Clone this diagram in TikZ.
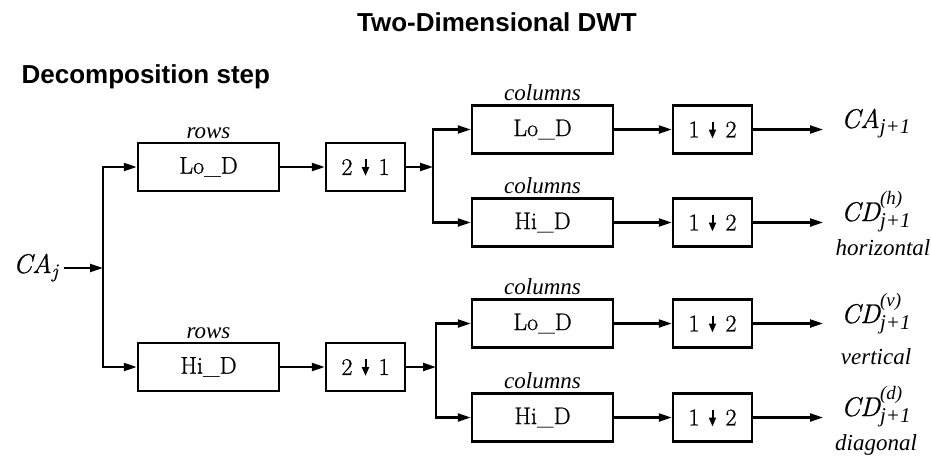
\documentclass[tikz,border=0pt]{standalone}
\usepackage{fontspec}
\usetikzlibrary{arrows.meta, positioning}
\newfontfamily\headfont{Liberation Sans}
\newfontfamily\labfont{Liberation Serif}
\newfontfamily\boxfont{Latin Modern Roman}[FakeBold=0.8]
\newcommand{\outsym}[3]{{\boxfont\itshape #1}$^{\mbox{\raisebox{7pt}{\labfont\itshape\fontsize{19}{20}\selectfont #2}}}_{\mbox{\labfont\itshape\fontsize{21}{22}\selectfont #3}}$}
\tikzset{
  every picture/.style={line width=2.5pt},
  filt/.style={draw, minimum width=141pt, minimum height=48pt, inner sep=0pt, font=\boxfont\fontsize{24}{28}\selectfont},
  down/.style={filt, minimum width=79pt},
  arrow/.style={-{Triangle[length=13pt, width=8pt]}, line width=2.2pt},
  dnarrow/.style={-{Triangle[length=9pt, width=7pt]}, line width=2pt},
  tag/.style={font=\labfont\itshape\fontsize{23}{27}\selectfont, inner sep=1pt},
  result/.style={anchor=base west, font=\fontsize{27}{31}\selectfont, inner sep=0pt},
  head/.style={font=\headfont\bfseries\fontsize{26}{30}\selectfont},
}
\begin{document}
\begin{tikzpicture}[x=1pt, y=-1pt]
  \useasboundingbox (0,0) rectangle (931,458);
  \node[head] (title) at (497,22) {Two-Dimensional DWT};
  \node[head, anchor=base west] (step) at (17,83) {Decomposition step};
  \node[result] (ca) at (12,273) {{\boxfont\itshape CA}$_{\mbox{\boxfont\itshape\fontsize{20}{22}\selectfont j}}$};
  \coordinate (split) at (103,268);
  \draw[arrow, shorten <=4pt] (ca.east |- split) -- (split);
  % rows
  \foreach \f/\y [count=\i] in {Lo/167, Hi/367} {
    \node[filt] (r\i) at (208.5,\y) {\f\_D};
    \node[tag, above=1pt of r\i] (rt\i) {rows};
    \node[down] (rd\i) at (365.5,\y) {2\hspace{26pt}1};
    \draw[dnarrow] ([yshift=8pt]rd\i.center) -- ([yshift=-9pt]rd\i.center);
    \draw[arrow] (split) |- (r\i);
    \draw[arrow] (r\i) -- (rd\i);
  }
  % columns
  \foreach \f/\y [count=\i] in {Lo/129.5, Hi/222.5, Lo/323.5, Hi/417.5} {
    \node[filt] (c\i) at (542.5,\y) {\f\_D};
    \node[tag, above=1pt of c\i] (ct\i) {columns};
    \node[down] (cd\i) at (712.5,\y) {1\hspace{26pt}2};
    \draw[dnarrow] ([yshift=8pt]cd\i.center) -- ([yshift=-9pt]cd\i.center);
    \draw[arrow] (c\i) -- (cd\i);
  }
  \coordinate (b1) at (433,167);
  \coordinate (b2) at (436,367);
  \draw[arrow] (rd1) -- (b1);
  \draw[arrow] (b1) |- (c1);
  \draw[arrow] (b1) |- (c2);
  \draw[arrow] (rd2) -- (b2);
  \draw[arrow] (b2) |- (c3);
  \draw[arrow] (b2) |- (c4);
  % outputs
  \node[result] (o1) at (840,128) {{\boxfont\itshape CA}$_{\mbox{\labfont\itshape\fontsize{21}{22}\selectfont j+1}}$};
  \node[result] (o2) at (840,221) {\outsym{CD}{(h)}{j+1}};
  \node[result] (o3) at (840,323) {\outsym{CD}{(v)}{j+1}};
  \node[result] (o4) at (840,416) {\outsym{CD}{(d)}{j+1}};
  \coordinate (tip) at (823,0);
  \foreach \i in {1,...,4}
    \draw[arrow] (cd\i) -- (cd\i -| tip);
  \node[tag] (hz) at (883,248) {horizontal};
  \node[tag] (vt) at (876,357) {vertical};
  \node[tag] (dg) at (876,445) {diagonal};
\end{tikzpicture}
\end{document}
